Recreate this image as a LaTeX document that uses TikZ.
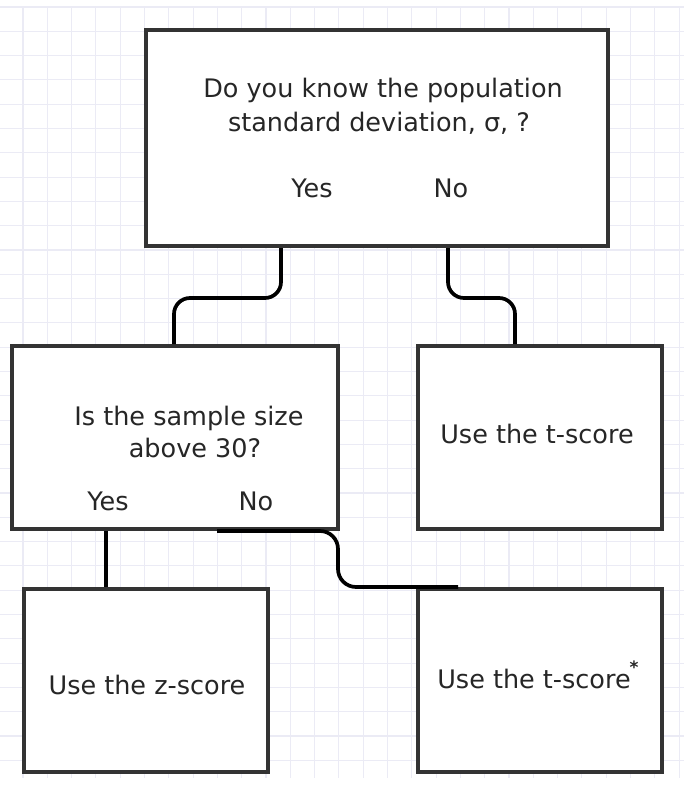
\documentclass[tikz,border=0pt]{standalone}
\usepackage{fontspec}
\setmainfont{DejaVu Sans}
\definecolor{boxc}{HTML}{333333}
\definecolor{txtc}{HTML}{262626}
\definecolor{gridc}{HTML}{EBEBF5}
\begin{document}
\begin{tikzpicture}[x=1pt,y=-1pt,
  box/.style={draw=boxc,line width=4pt,fill=white,inner sep=0pt},
  conn/.style={draw=black,line width=3.7pt,rounded corners=16pt},
  lbl/.style={text=txtc,anchor=base,inner sep=0pt,font=\fontsize{25.5}{30}\selectfont}]
\useasboundingbox[fill=white] (0,0) rectangle (684,786);
% grid
\foreach \k in {0,...,27} \draw[gridc,line width=1.1pt] (23+24.3*\k,7) -- (23+24.3*\k,778);
\foreach \k in {0,...,31} \draw[gridc,line width=1.1pt] (0,7+24.3*\k) -- (684,7+24.3*\k);
% boxes
\node[box,minimum width=462pt,minimum height=216pt] (top) at (377,138) {};
\node[box,minimum width=326pt,minimum height=183pt] (midL) at (175,437.5) {};
\node[box,minimum width=244pt,minimum height=183pt] (midR) at (540,437.5) {};
\node[box,minimum width=244pt,minimum height=183pt] (botL) at (146,680.5) {};
\node[box,minimum width=244pt,minimum height=183pt] (botR) at (540,680.5) {};
% ports
\coordinate (tYes) at ([xshift=137pt]top.south west);
\coordinate (tNo) at ([xshift=304pt]top.south west);
\coordinate (lIn) at ([xshift=164pt]midL.north west);
\coordinate (rIn) at ([xshift=99pt]midR.north west);
\coordinate (mYes) at ([xshift=96pt]midL.south west);
\coordinate (yIn) at (botL.north -| mYes);
\coordinate (mNo) at (217,531);
\coordinate (nEnd) at (458,587);
% connectors
\draw[conn] (tYes) -- (tYes |- 0,298) -- (lIn |- 0,298) -- (lIn);
\draw[conn] (tNo) -- (tNo |- 0,298) -- (rIn |- 0,298) -- (rIn);
\draw[conn] (mYes) -- (yIn);
\draw[conn,rounded corners=18pt] (mNo) -- (338,531) -- (338,587) -- (nEnd);
% texts
\node[lbl] (t1) at (383,98) {Do you know the population};
\node[lbl] (t2) at (379,132) {standard deviation, σ, ?};
\node[lbl] (t3) at (312,198) {Yes};
\node[lbl] (t4) at (451,198) {No};
\node[lbl] (m1) at (189,425) {Is the sample size};
\node[lbl] (m2) at (195,457) {above 30?};
\node[lbl] (m3) at (108,510) {Yes};
\node[lbl] (m4) at (256,510) {No};
\node[lbl] (r1) at (537,443) {Use the t-score};
\node[lbl] (b1) at (147,694) {Use the z-score};
\node[lbl] (b2) at (534,688) {Use the t-score};
\node[text=txtc,inner sep=0pt,font=\bfseries\fontsize{17}{18}\selectfont] (ast) at (634,667) {*};
\end{tikzpicture}
\end{document}
